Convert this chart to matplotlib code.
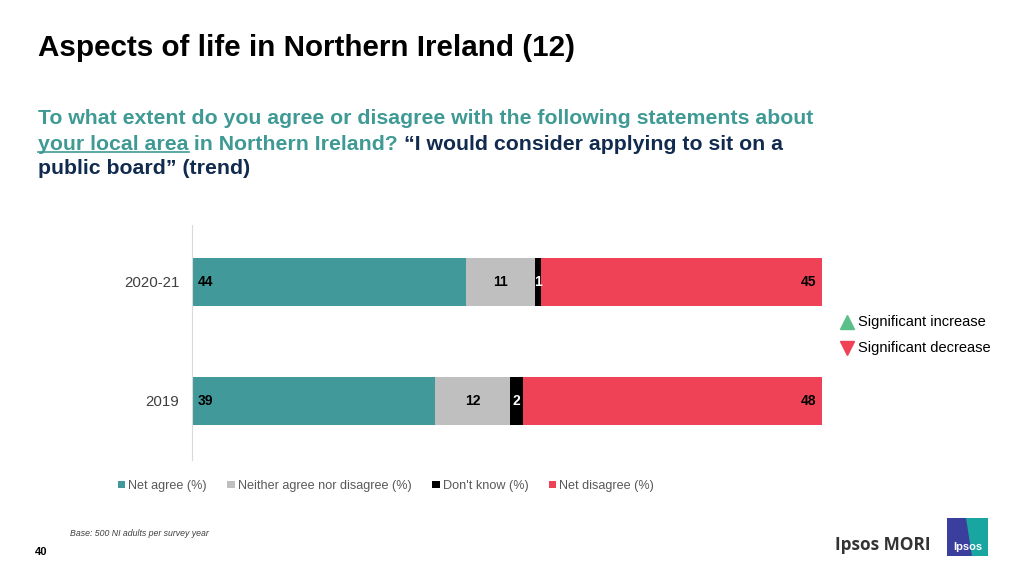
import matplotlib
matplotlib.use('Agg')
import matplotlib.pyplot as plt
import matplotlib.patches as patches
from matplotlib.lines import Line2D

plt.rcParams['font.family'] = ['Liberation Sans', 'DejaVu Sans']

# Data
years = ['2019', '2020-21']
series = ['Net agree (%)', 'Neither agree nor disagree (%)', "Don't know (%)", 'Net disagree (%)']
net_agree = [39, 44]
neither = [12, 11]
dont_know = [2, 1]
net_disagree = [48, 45]
colors = ['#41999A', '#BFBFBF', '#000000', '#F04257']

TEAL = '#3F9A95'
NAVY = '#112B4F'

fig = plt.figure(figsize=(10.24, 5.76), dpi=100)
ax = fig.add_axes([192 / 1024, 1 - 460 / 576, 630 / 1024, 235 / 576])

values = [net_agree, neither, dont_know, net_disagree]
ypos = list(range(len(years)))
left = [0] * len(years)
for s, (name, vals, c) in enumerate(zip(series, values, colors)):
    ax.barh(ypos, vals, left=left, height=0.40, color=c, label=name, edgecolor='none')
    for i, v in enumerate(vals):
        if s == 0:
            ax.text(left[i] + 0.9, i, str(v), va='center', ha='left',
                    fontsize=10, fontweight='bold', color='black')
        elif s == 3:
            ax.text(left[i] + v - 1.0, i, str(v), va='center', ha='right',
                    fontsize=10, fontweight='bold', color='black')
        else:
            ax.text(left[i] + v / 2, i, str(v), va='center', ha='center',
                    fontsize=10, fontweight='bold',
                    color='white' if s == 2 else 'black')
    left = [l + v for l, v in zip(left, vals)]

ax.set_xlim(0, 101)
ax.set_ylim(-0.496, 1.479)
ax.set_yticks(ypos)
ax.set_yticklabels(years, fontsize=10.8, color='#404040')
ax.tick_params(axis='y', length=0, pad=9)
ax.set_xticks([])
for sp in ['top', 'right', 'bottom']:
    ax.spines[sp].set_visible(False)
ax.spines['left'].set_color('#D9D9D9')
ax.spines['left'].set_linewidth(0.8)

# Series legend
handles, labels = ax.get_legend_handles_labels()
fig.legend(handles, labels, loc='center', bbox_to_anchor=(386 / 1024, 1 - 486 / 576),
           ncol=4, frameon=False, fontsize=9.1, handlelength=0.6, handleheight=0.45,
           handletextpad=0.25, columnspacing=1.6, labelcolor='#595959')

# Significance legend
fig.text(858 / 1024, 1 - 322 / 576, 'Significant increase', fontsize=10.5,
         va='center', ha='left', color='black')
fig.text(858 / 1024, 1 - 348 / 576, 'Significant decrease', fontsize=10.5,
         va='center', ha='left', color='black')
fig.add_artist(Line2D([847 / 1024], [1 - 322 / 576], marker='^', markersize=10,
                      color='#5BBF8A', linestyle='none'))
fig.add_artist(Line2D([847 / 1024], [1 - 348 / 576], marker='v', markersize=10,
                      color='#F04257', linestyle='none'))

# Title
fig.text(38 / 1024, 1 - 48 / 576, 'Aspects of life in Northern Ireland (12)',
         fontsize=21.3, fontweight='bold', color='black', va='center', ha='left')

# Subtitle with mixed colours
renderer = fig.canvas.get_renderer()
sub_fs = 15.3
x0 = 38 / 1024
y_lines = [1 - 118 / 576, 1 - 144 / 576, 1 - 169 / 576]
fig.text(x0, y_lines[0],
         'To what extent do you agree or disagree with the following statements about',
         fontsize=sub_fs, fontweight='bold', color=TEAL, va='center', ha='left')
pieces = [('your local area', TEAL, True), (' in Northern Ireland? ', TEAL, False),
          ('\u201cI would consider applying to sit on a', NAVY, False)]
x = x0
for txt, c, ul in pieces:
    t = fig.text(x, y_lines[1], txt, fontsize=sub_fs, fontweight='bold', color=c,
                 va='center', ha='left')
    bb = t.get_window_extent(renderer=renderer).transformed(fig.transFigure.inverted())
    if ul:
        fig.add_artist(Line2D([bb.x0, bb.x1], [bb.y0 + 0.002, bb.y0 + 0.002],
                              color=c, linewidth=1.2))
    x = bb.x1
fig.text(x0, y_lines[2], 'public board\u201d (trend)', fontsize=sub_fs,
         fontweight='bold', color=NAVY, va='center', ha='left')

# Footer
fig.text(70 / 1024, 1 - 533 / 576, 'Base: 500 NI adults per survey year',
         fontsize=6.3, style='italic', color='#404040', va='center', ha='left')
fig.text(35 / 1024, 1 - 552 / 576, '40', fontsize=8, fontweight='bold',
         color='black', va='center', ha='left')

# Logo
fig.text(835 / 1024, 1 - 545 / 576, 'Ipsos MORI', fontsize=12.4, fontweight='bold',
         color='#333333', va='center', ha='left', family=['Open Sans', 'DejaVu Sans'])
fig.add_artist(patches.Rectangle((947 / 1024, 1 - 556 / 576), 41 / 1024, 38 / 576,
                                 transform=fig.transFigure, facecolor='#3A3F9E',
                                 edgecolor='none'))
fig.add_artist(patches.Polygon([(966 / 1024, 1 - 518 / 576), (988 / 1024, 1 - 518 / 576),
                                (988 / 1024, 1 - 556 / 576), (972 / 1024, 1 - 556 / 576)],
                               closed=True, transform=fig.transFigure,
                               facecolor='#1AA6A0', edgecolor='none'))
fig.text(967.5 / 1024, 1 - 547 / 576, 'Ipsos', fontsize=8, fontweight='bold',
         color='white', va='center', ha='center')

fig.savefig('out.png', dpi=100, facecolor='white')
